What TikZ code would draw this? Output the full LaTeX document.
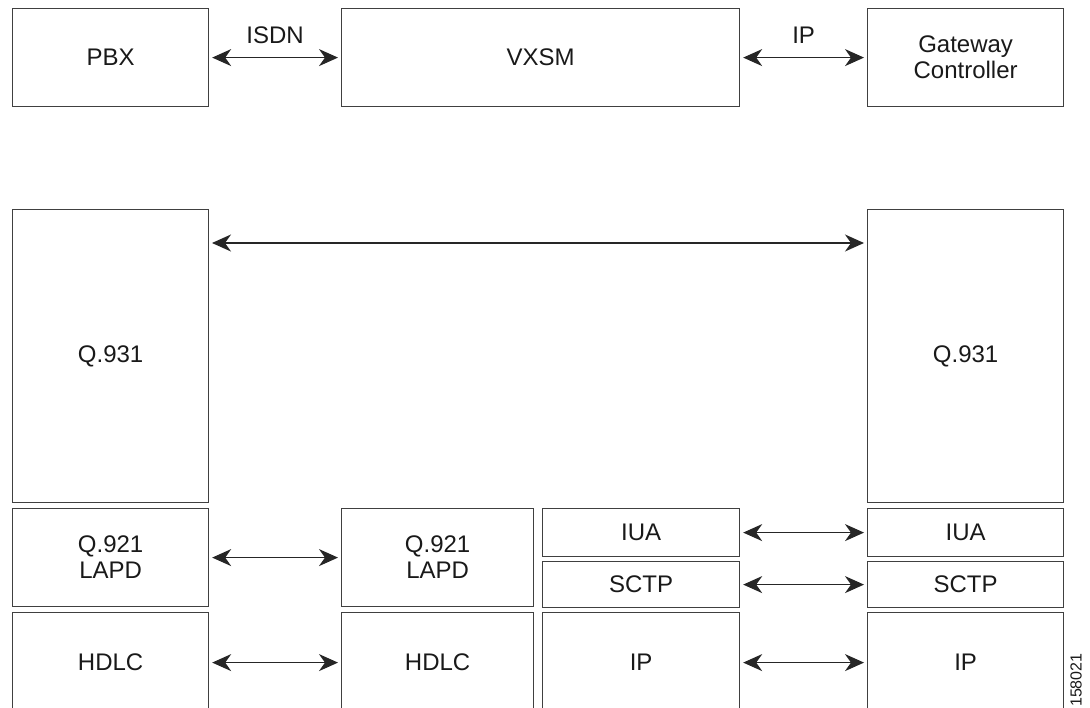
\documentclass[tikz,border=0pt]{standalone}
\usepackage{fontspec}
\setmainfont{Liberation Sans}
\usetikzlibrary{arrows.meta}
\begin{document}
\begin{tikzpicture}[x=1pt,y=-1pt,
  box/.style={draw=black!75, line width=1.2pt, inner sep=0pt, anchor=north west,
    align=center, font=\fontsize{24}{26}\selectfont, text=black!90},
  link/.style={line width=1.3pt, draw=black!85,
    {Stealth[length=19pt,width=17pt,inset=6pt]}-{Stealth[length=19pt,width=17pt,inset=6pt]}},
  lbl/.style={font=\fontsize{24}{26}\selectfont, text=black!90, inner sep=0pt}]
\useasboundingbox (0,0) rectangle (1090,708);
\clip (0,0) rectangle (1090,708);
% top row
\node[box, minimum width=196pt, minimum height=98pt] (pbx) at (12,8) {PBX};
\node[box, minimum width=398pt, minimum height=98pt] (vxsm) at (341,8) {VXSM};
\node[box, minimum width=196pt, minimum height=98pt] (gc) at (867,8) {Gateway\\Controller};
\draw[link] ([xshift=3pt]pbx.east) -- ([xshift=-3pt]vxsm.west) node[lbl, midway, yshift=22pt] (isdn) {ISDN};
\draw[link] ([xshift=3pt]vxsm.east) -- ([xshift=-3pt]gc.west) node[lbl, midway, yshift=22pt] (ip0) {IP};
% Q.931
\node[box, minimum width=196pt, minimum height=293pt] (qa) at (12,209) {Q.931};
\node[box, minimum width=196pt, minimum height=293pt] (qb) at (867,209) {Q.931};
\coordinate (qal) at (212,243);
\coordinate (qbr) at (864,243);
\draw[link] (qal) -- (qbr);
% Q.921 row
\node[box, minimum width=196pt, minimum height=98pt] (la) at (12,508) {Q.921\\LAPD};
\node[box, minimum width=192pt, minimum height=98pt] (lb) at (341,508) {Q.921\\LAPD};
\node[box, minimum width=197pt, minimum height=48pt] (iua) at (542,508) {IUA};
\node[box, minimum width=197pt, minimum height=46pt] (sctp) at (542,561) {SCTP};
\node[box, minimum width=196pt, minimum height=48pt] (iub) at (867,508) {IUA};
\node[box, minimum width=196pt, minimum height=46pt] (scb) at (867,561) {SCTP};
\draw[link] ([xshift=3pt]la.east) -- ([xshift=-3pt]lb.west);
\draw[link] ([xshift=3pt]iua.east) -- ([xshift=-3pt]iub.west);
\draw[link] ([xshift=3pt]sctp.east) -- ([xshift=-3pt]scb.west);
% bottom row
\node[box, minimum width=196pt, minimum height=100pt] (ha) at (12,612) {HDLC};
\node[box, minimum width=192pt, minimum height=100pt] (hb) at (341,612) {HDLC};
\node[box, minimum width=197pt, minimum height=100pt] (ipa) at (542,612) {IP};
\node[box, minimum width=196pt, minimum height=100pt] (ipb) at (867,612) {IP};
\draw[link] ([xshift=3pt]ha.east) -- ([xshift=-3pt]hb.west);
\draw[link] ([xshift=3pt]ipa.east) -- ([xshift=-3pt]ipb.west);
% figure number
\node[lbl, font=\fontsize{16}{18}\selectfont, rotate=90, anchor=west] (fig) at (1076,707) {158021};
\end{tikzpicture}
\end{document}
